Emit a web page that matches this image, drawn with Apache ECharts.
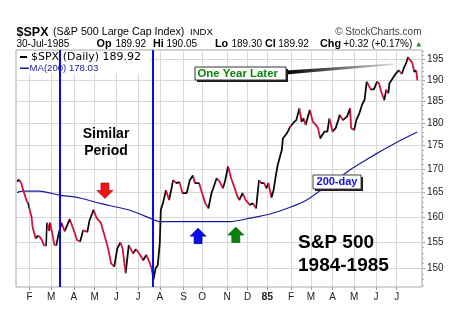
<!DOCTYPE html>
<html>
<head>
<meta charset="utf-8">
<script src="https://cdn.jsdelivr.net/npm/echarts@6/dist/echarts.min.js"></script>
<style>
  html, body { margin: 0; padding: 0; background: #ffffff; }
  #chart { width: 460px; height: 329px; }
</style>
</head>
<body>
<div id="chart"></div>
<script>
// S&P 500 daily closes, Jan 1984 - Jul 1985.
// x = trading session number (session 0 = first trading day of 1984).
const priceSessions = [
  8, 10, 12, 14, 17, 19, 20, 22, 23, 26,
  28, 30, 32, 34, 36, 37, 39, 40, 42, 44,
  46, 48, 51, 54, 59, 62, 66, 69, 72, 76,
  78, 82, 85, 89, 93, 96, 99, 102, 105, 108,
  110, 113, 116, 120, 123, 127, 130, 133, 136, 138,
  140, 142, 144, 146, 147, 149, 152, 155, 159, 162,
  165, 168, 172, 175, 178, 180, 184, 186, 190, 193,
  196, 197, 201, 204, 207, 209, 212, 215, 218, 221,
  223, 226, 229, 233, 236, 239, 242, 244, 247, 249,
  251, 254, 256, 258, 260, 264, 265, 269, 272, 273,
  276, 278, 281, 283, 285, 287, 291, 294, 297, 299,
  301, 305, 308, 310, 313, 316, 318, 320, 323, 327,
  330, 331, 334, 336, 339, 342, 344, 346, 350, 353,
  356, 358, 360, 363, 365, 367, 368, 374, 377, 380,
  382, 384, 386, 388, 390, 392, 394, 395
];
const priceValues = [
  167.3, 167.7, 167.0, 165.5, 163.5, 162.6, 163.0, 160.1, 158.1, 155.8,
  156.3, 156.1, 155.5, 154.5, 154.4, 158.9, 157.3, 158.9, 156.9, 154.6,
  154.5, 156.5, 158.9, 157.2, 159.6, 157.9, 155.5, 155.2, 157.4, 157.1,
  159.3, 161.5, 159.8, 158.9, 156.1, 153.9, 151.0, 150.4, 153.9, 155.0,
  153.9, 149.1, 154.5, 152.9, 153.7, 152.6, 151.6, 152.6, 151.3, 150.1,
  148.0, 150.1, 150.6, 154.9, 161.5, 162.8, 165.5, 163.5, 167.6, 167.0,
  167.2, 164.9, 164.9, 167.6, 168.6, 167.0, 167.0, 165.5, 162.8, 161.8,
  164.9, 165.5, 168.0, 167.3, 165.9, 167.3, 170.5, 168.0, 166.2, 164.2,
  163.5, 164.9, 163.5, 162.5, 162.8, 161.8, 167.6, 167.0, 167.0, 165.9,
  167.0, 164.0, 165.5, 168.3, 170.8, 174.1, 176.6, 177.8, 179.2, 178.9,
  180.3, 180.7, 183.4, 180.3, 181.1, 179.6, 183.0, 180.3, 179.6, 178.9,
  176.6, 178.1, 178.1, 181.1, 178.1, 178.9, 180.3, 181.9, 180.7, 181.5,
  183.4, 178.9, 178.5, 180.7, 182.3, 184.5, 185.3, 189.6, 187.8, 187.8,
  189.6, 189.2, 187.3, 185.3, 187.7, 186.9, 189.2, 191.5, 192.3, 191.5,
  192.9, 194.0, 195.5, 194.8, 194.2, 192.0, 192.3, 189.92
];

// 200-day simple moving average
const maSessions = [8, 13, 30, 49, 69, 88, 117, 139, 146, 214, 233, 252, 272, 288, 301, 316, 330, 346, 362, 378, 395];
const maValues = [165.0, 165.3, 165.3, 164.5, 163.9, 162.8, 161.4, 159.6, 159.1, 159.1, 159.8, 160.6, 162.0, 163.5, 165.4, 167.5, 169.8, 172.0, 174.1, 176.1, 178.03];

// First session of each month and its label
const monthStartSessions = [20, 41, 63, 83, 104, 125, 146, 169, 187, 211, 231, 250, 273, 292, 313, 334, 355, 375];
const monthLabels = ['F', 'M', 'A', 'M', 'J', 'J', 'A', 'S', 'O', 'N', 'D', '85', 'F', 'M', 'A', 'M', 'J', 'J'];

// Price scale ticks (log scale)
const priceTicks = [150, 155, 160, 165, 170, 175, 180, 185, 190, 195];
const priceMinorTicks = [];
for (let v = 147; v <= 197; v++) priceMinorTicks.push(v);

// "Similar period" boundaries (sessions)
const periodMarkers = [49.5, 139.5];

// Annotation arrows: session, price level, direction
const arrowSessions = [93, 183, 219.5];
const arrowValues = [165.4, 156.3, 156.5];
const arrowDirections = ['down', 'up', 'up'];

// Header quote figures
const quoteDate = '30-Jul-1985';
const quote = { Op: '189.92', Hi: '190.05', Lo: '189.30', Cl: '189.92', Chg: '+0.32 (+0.17%)' };

const UP_COLOR = '#0c0c0c';
const DOWN_COLOR = '#d0123c';
const MA_COLOR = '#1a1a9c';
const FONT = '"Liberation Sans", Arial, Helvetica, sans-serif';

const priceData = priceSessions.map((s, i) => [s, priceValues[i]]);
const maData = maSessions.map((s, i) => [s, maValues[i]]);

// Colour each segment by direction: rising black, falling red
const pieces = [];
for (let i = 0; i < priceSessions.length - 1; i++) {
  const p = { gte: priceSessions[i], color: priceValues[i + 1] >= priceValues[i] ? UP_COLOR : DOWN_COLOR };
  if (i < priceSessions.length - 2) p.lt = priceSessions[i + 1]; else p.lte = priceSessions[i + 1];
  pieces.push(p);
}

const ARROW_DOWN = 'path://M4,0L12,0L12,7.5L16,7.5L8,15.5L0,7.5L4,7.5Z';
const ARROW_UP = 'path://M8,0L16,8L12,8L12,15.5L4,15.5L4,8L0,8Z';
const arrowFill = ['#f01414', '#0c0cf0', '#0a820a'];
const arrowEdge = ['#9a0000', '#00008a', '#044c04'];
const arrowData = arrowSessions.map((s, i) => ({
  value: [s, arrowValues[i]],
  symbol: arrowDirections[i] === 'down' ? ARROW_DOWN : ARROW_UP,
  itemStyle: { color: arrowFill[i], borderColor: arrowEdge[i], borderWidth: 0.6, opacity: 1 }
}));

function text(x, y, str, font, fill, align) {
  return {
    type: 'text', x: x, y: y, z: 10,
    style: { text: str, font: font, fill: fill, align: align || 'left', verticalAlign: 'middle' }
  };
}

const chart = echarts.init(document.getElementById('chart'), null, { renderer: 'canvas' });

const graphics = [
  // header
  text(16.5, 32.5, '$SPX', 'bold 12.5px ' + FONT, '#000'),
  text(53, 32.5, '(S&P 500 Large Cap Index)', '10.7px ' + FONT, '#000'),
  text(190, 32.5, 'INDX', '9.6px ' + FONT, '#000'),
  text(421.5, 32.5, '\u00A9 StockCharts.com', '10px ' + FONT, '#444', 'right'),
  text(16.5, 44, quoteDate, '10px ' + FONT, '#000'),
  text(96.5, 44, 'Op', 'bold 10.8px ' + FONT, '#000'),
  text(115.5, 44, quote.Op, '10px ' + FONT, '#000'),
  text(153, 44, 'Hi', 'bold 10.8px ' + FONT, '#000'),
  text(166.5, 44, quote.Hi, '10px ' + FONT, '#000'),
  text(215, 44, 'Lo', 'bold 10.8px ' + FONT, '#000'),
  text(231.5, 44, quote.Lo, '10px ' + FONT, '#000'),
  text(265, 44, 'Cl', 'bold 10.8px ' + FONT, '#000'),
  text(278.3, 44, quote.Cl, '10px ' + FONT, '#000'),
  text(320, 44, 'Chg', 'bold 10.8px ' + FONT, '#000'),
  text(343.3, 44, quote.Chg, '10px ' + FONT, '#000'),
  { type: 'polygon', z: 10, shape: { points: [[416.3, 46.5], [421.3, 46.5], [418.8, 42]] }, style: { fill: '#2a8a2a' } },

  // legend
  { type: 'rect', z: 1, shape: { x: 17, y: 51, width: 133, height: 23 }, style: { fill: '#ffffff' } },
  { type: 'rect', z: 10, shape: { x: 20, y: 56, width: 7, height: 2 }, style: { fill: '#000' } },
  text(31, 57.5, '$SPX (Daily) 189.92', '11px "DejaVu Sans", Verdana, sans-serif', '#000'),
  { type: 'rect', z: 10, shape: { x: 20, y: 67.5, width: 9, height: 1.5 }, style: { fill: MA_COLOR } },
  text(29.5, 68.5, 'MA(200) 178.03', '9.6px ' + FONT, MA_COLOR),

  // "One Year Later" callout
  {
    type: 'polygon', z: 9,
    shape: { points: [[286, 70.5], [393, 63.5], [393, 65], [286, 74.5]] },
    style: { fill: new echarts.graphic.LinearGradient(0, 0, 1, 0, [{ offset: 0, color: '#000' }, { offset: 1, color: '#d8d8d8' }]) }
  },
  { type: 'rect', z: 10, shape: { x: 197, y: 69, width: 91, height: 13 }, style: { fill: '#1a1a1a' } },
  { type: 'rect', z: 10, shape: { x: 195, y: 67, width: 91, height: 13 }, style: { fill: '#fff', stroke: '#333', lineWidth: 1 } },
  text(197.5, 73.8, 'One Year Later', 'bold 11.4px ' + FONT, '#0a850a'),

  // "200-day" label
  { type: 'rect', z: 10, shape: { x: 315, y: 177, width: 48, height: 14 }, style: { fill: '#1a1a1a' } },
  { type: 'rect', z: 10, shape: { x: 313, y: 175, width: 48, height: 14 }, style: { fill: '#fff', stroke: '#444', lineWidth: 1 } },
  text(337, 182.3, '200-day', 'bold 11px ' + FONT, '#1010e0', 'center'),

  // captions
  text(106, 134, 'Similar', 'bold 14px ' + FONT, '#000', 'center'),
  text(106, 151.5, 'Period', 'bold 14px ' + FONT, '#000', 'center'),
  text(298, 242.5, 'S&P 500', 'bold 19px ' + FONT, '#000'),
  text(298, 266, '1984-1985', 'bold 19px ' + FONT, '#000')
];

const option = {
  animation: false,
  backgroundColor: '#ffffff',
  grid: { left: 16, top: 50, width: 406, height: 237, show: true, borderColor: '#a8a8a8', borderWidth: 1, backgroundColor: 'transparent' },
  xAxis: {
    type: 'value', min: 7, max: 399.5,
    axisLine: { show: false },
    axisTick: { show: true, customValues: monthStartSessions, length: 3, lineStyle: { color: '#999' } },
    axisLabel: {
      customValues: monthStartSessions, margin: 5, fontSize: 10, fontFamily: FONT, color: '#222',
      formatter: function (v) {
        const i = monthStartSessions.indexOf(v);
        const lab = i >= 0 ? monthLabels[i] : '';
        return lab === '85' ? '{b|85}' : lab;
      },
      rich: { b: { fontWeight: 'bold', fontSize: 10.5, fontFamily: FONT, color: '#222' } }
    },
    splitLine: { show: true, lineStyle: { color: '#d8d8d8', width: 1 } }
  },
  yAxis: [{
    type: 'log', logBase: 10, min: 146.6, max: 197.3, position: 'right',
    axisLine: { show: false },
    axisTick: { show: true, customValues: priceTicks, length: 3, lineStyle: { color: '#999' } },
    axisLabel: { customValues: priceTicks, margin: 5, fontSize: 10, fontFamily: FONT, color: '#222' },
    splitLine: { show: true, lineStyle: { color: '#d8d8d8', width: 1 } }
  }, {
    type: 'log', logBase: 10, min: 146.6, max: 197.3, position: 'right',
    axisLine: { show: false },
    axisTick: { show: true, customValues: priceMinorTicks, length: 2, lineStyle: { color: '#b0b0b0' } },
    axisLabel: { show: false },
    splitLine: { show: false }
  }],
  visualMap: {
    show: false, type: 'piecewise', seriesIndex: 0, dimension: 0,
    pieces: pieces, outOfRange: { color: DOWN_COLOR }
  },
  series: [
    {
      name: '$SPX', type: 'line', data: priceData, z: 4,
      showSymbol: false, symbol: 'none',
      lineStyle: { width: 1.8 }
    },
    {
      name: 'MA(200)', type: 'line', data: maData, z: 3,
      showSymbol: false, symbol: 'none', smooth: 0.2,
      lineStyle: { width: 1.2, color: MA_COLOR }, itemStyle: { color: MA_COLOR }
    },
    {
      name: 'period', type: 'line', data: [], z: 2,
      markLine: {
        silent: true, symbol: ['none', 'none'], label: { show: false },
        lineStyle: { color: '#0a0af0', width: 2, type: 'solid' },
        data: periodMarkers.map(s => ({ xAxis: s }))
      }
    },
    {
      name: 'arrows', type: 'scatter', data: arrowData, z: 5,
      symbolSize: [16, 15.5], itemStyle: { opacity: 1 },
      emphasis: { disabled: true }
    }
  ],
  graphic: { elements: graphics }
};

chart.setOption(option);
</script>
</body>
</html>
